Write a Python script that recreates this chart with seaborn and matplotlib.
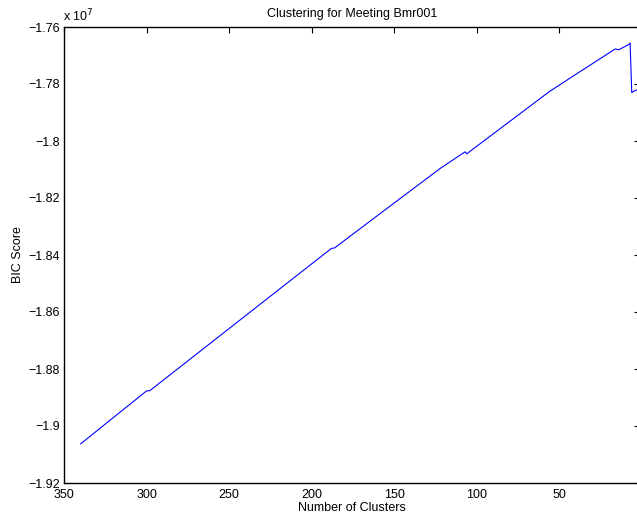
import numpy as np
import pandas as pd
import seaborn as sns
import matplotlib.pyplot as plt
from matplotlib.ticker import FuncFormatter

# -------------------------- Data --------------------------
clusters = [340, 300, 298, 188, 186, 159, 122, 107, 106, 56, 42, 16, 14, 8, 7, 6, 4, 2, 1]
bic_e7 = [-1.9063, -1.8877, -1.8876, -1.8377, -1.8375, -1.8257, -1.8096, -1.8038, -1.8045,
          -1.7827, -1.7774, -1.7677, -1.7680, -1.7662, -1.7656, -1.7830, -1.7823, -1.7820, -1.8100]
y_ticks = [-1.92, -1.90, -1.88, -1.86, -1.84, -1.82, -1.80, -1.78, -1.76]
x_ticks = [350, 300, 250, 200, 150, 100, 50]

df = pd.DataFrame({"clusters": clusters, "bic": np.array(bic_e7) * 1e7})

# -------------------------- Style --------------------------
sns.set_theme(style="white")
plt.rcParams["font.family"] = ["Liberation Sans", "DejaVu Sans"]
plt.rcParams.update({
    "font.size": 9,
    "axes.linewidth": 1.0,
    "text.color": "black",
    "axes.labelcolor": "black",
    "xtick.color": "black",
    "ytick.color": "black",
    "xtick.direction": "in",
    "ytick.direction": "in",
    "xtick.top": True,
    "ytick.right": True,
})

fig = plt.figure(figsize=(6.37, 5.18), dpi=100)
ax = fig.add_axes([64 / 637, 1 - 483 / 518, (640 - 64) / 637, (483 - 27) / 518])

sns.lineplot(data=df, x="clusters", y="bic", color="#0000ff", linewidth=0.8,
             sort=False, ax=ax)

ax.set_xlim(350, 1)
ax.set_ylim(-1.92e7, -1.76e7)
ax.set_xticks(x_ticks)
ax.set_yticks([v * 1e7 for v in y_ticks])
ax.yaxis.set_major_formatter(FuncFormatter(lambda v, p: f"{v / 1e7:g}".replace("-", "\u2212")))
ax.tick_params(axis="both", which="major", length=4, width=0.8, colors="black",
               labelsize=9, top=True, right=True)
ax.tick_params(axis="x", pad=4)
ax.tick_params(axis="y", pad=3)
for s in ax.spines.values():
    s.set_color("black")
    s.set_linewidth(1.0)
ax.grid(False)

ax.set_title("Clustering for Meeting Bmr001", fontsize=9, pad=7, color="black")
ax.set_xlabel("Number of Clusters", fontsize=9, labelpad=1, color="black")
ax.set_ylabel("BIC Score", fontsize=9, labelpad=3, color="black")
fig.text(63 / 637, 1 - 21 / 518, "x 10$^{7}$", fontsize=9, ha="left", va="baseline",
         color="black")

plt.savefig("out.png", dpi=100)
plt.close()
